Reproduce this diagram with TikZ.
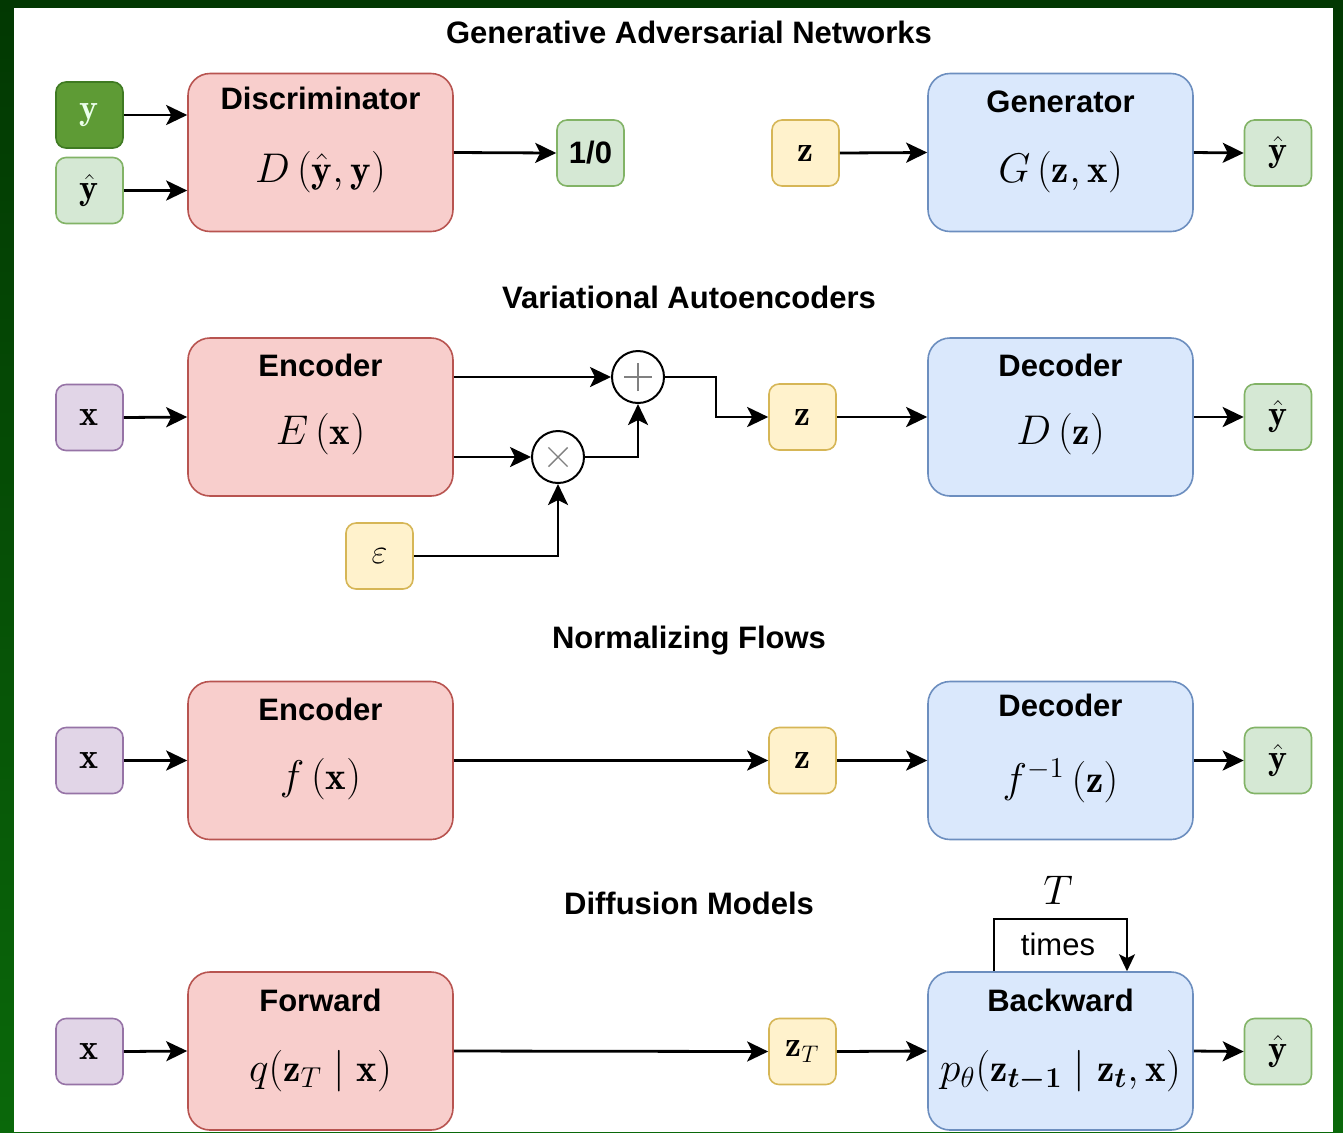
\documentclass[tikz,border=0pt]{standalone}
\usepackage{amsmath,bm}
\usepackage{fontspec}
\newfontfamily\arial{Liberation Sans}
\usetikzlibrary{arrows.meta}
\definecolor{rfill}{HTML}{F8CECC}\definecolor{rdraw}{HTML}{B85450}
\definecolor{bfill}{HTML}{DAE8FC}\definecolor{bdraw}{HTML}{6C8EBF}
\definecolor{gfill}{HTML}{D5E8D4}\definecolor{gdraw}{HTML}{82B366}
\definecolor{yfill}{HTML}{FFF2CC}\definecolor{ydraw}{HTML}{D6B656}
\definecolor{pfill}{HTML}{E1D5E7}\definecolor{pdraw}{HTML}{9673A6}
\definecolor{dgfill}{HTML}{5E9B35}\definecolor{dgdraw}{HTML}{3F7A22}
\definecolor{bgtop}{RGB}{2,56,2}\definecolor{bgbot}{RGB}{10,104,10}
\begin{document}
\begin{tikzpicture}[x=0.5pt,y=-0.5pt,
  big/.style={rounded corners=11pt, minimum width=132.5pt, minimum height=79pt, line width=0.8pt, inner sep=0pt},
  redbig/.style={big, fill=rfill, draw=rdraw},
  bluebig/.style={big, fill=bfill, draw=bdraw},
  small/.style={rounded corners=5pt, minimum width=33.5pt, minimum height=33pt, line width=0.8pt, inner sep=0pt, font=\fontsize{18}{20}\selectfont},
  gsm/.style={small, fill=gfill, draw=gdraw},
  dgsm/.style={small, fill=dgfill, draw=dgdraw, text=green!8},
  ysm/.style={small, fill=yfill, draw=ydraw},
  psm/.style={small, fill=pfill, draw=pdraw},
  sectitle/.style={font=\arial\bfseries\fontsize{15.5}{18}\selectfont, inner sep=0pt},
  boxtitle/.style={font=\arial\bfseries\fontsize{15.5}{18}\selectfont, inner sep=0pt},
  formula/.style={font=\fontsize{19.5}{22}\selectfont, inner sep=0pt},
  arr/.style={-{Stealth[length=10.5pt,width=10pt,inset=2.5pt]}, line width=1.4pt},
  loop/.style={-{Stealth[length=8.5pt,width=8pt,inset=2pt]}, line width=1pt},
  op/.style={circle, draw, line width=1pt, minimum size=26pt, inner sep=0pt, fill=white}
]
\useasboundingbox (0,0) rectangle (1343,1132);
\fill[top color=bgtop, bottom color=bgbot] (0,0) rectangle (1343,1132);
\fill[white] (14,8) rectangle (1333,1132);

% ---------------- GAN
\node[sectitle] (t1) at (689,32) {Generative Adversarial Networks};
\node[dgsm] (y1) at (89.5,115) {$\mathbf{y}$};
\node[gsm] (yh1) at (89.5,190.5) {$\hat{\mathbf{y}}$};
\node[redbig] (disc) at (320.5,152.5) {};
\node[boxtitle] (disct) at (320.5,98) {Discriminator};
\node[formula] (discf) at (320.5,172) {$D\left(\hat{\mathbf{y}},\mathbf{y}\right)$};
\draw[arr] (y1.east) -- (y1.east -| disc.west);
\draw[arr] (yh1.east) -- (yh1.east -| disc.west);
\node[gsm, font=\arial\bfseries\fontsize{15.5}{18}\selectfont] (out) at (590.5,153) {1/0};
\draw[arr] (disc.east) -- (out.west);
\node[ysm] (z1) at (805.5,153) {$\mathbf{z}$};
\node[bluebig] (gen) at (1060.5,152.5) {};
\node[boxtitle] (gent) at (1060.5,102) {Generator};
\node[formula] (genf) at (1060.5,172) {$G\left(\mathbf{z},\mathbf{x}\right)$};
\draw[arr] (z1.east) -- (gen.west);
\node[gsm] (yo1) at (1278,153) {$\hat{\mathbf{y}}$};
\draw[arr] (gen.east) -- (yo1.west);

% ---------------- VAE
\node[sectitle] (t2) at (689,297) {Variational Autoencoders};
\node[psm] (x2) at (89.5,417.5) {$\mathbf{x}$};
\node[redbig] (enc2) at (320.5,417) {};
\node[boxtitle] (enc2t) at (320.5,365) {Encoder};
\node[formula] (enc2f) at (320.5,434) {$E\left(\mathbf{x}\right)$};
\draw[arr] (x2.east) -- (enc2.west);
\node[op] (plus) at (638,377) {};
\node[op] (times) at (558,457) {};
\draw[gray, line width=0.7pt] ([xshift=-7pt]plus.center) -- ([xshift=7pt]plus.center)
  ([yshift=-7pt]plus.center) -- ([yshift=7pt]plus.center);
\draw[gray, line width=0.7pt] ([xshift=-4.8pt,yshift=-4.8pt]times.center) -- ([xshift=4.8pt,yshift=4.8pt]times.center)
  ([xshift=-4.8pt,yshift=4.8pt]times.center) -- ([xshift=4.8pt,yshift=-4.8pt]times.center);
\draw[arr] (enc2.east |- plus) -- (plus.west);
\draw[arr] (enc2.east |- times) -- (times.west);
\draw[arr] (times.east) -| (plus.south);
\node[ysm] (eps) at (379.5,556) {$\varepsilon$};
\draw[arr] (eps.east) -| (times.south);
\node[ysm] (z2) at (802.5,417) {$\mathbf{z}$};
\coordinate (bend) at (716,377);
\draw[arr] (plus.east) -- (bend) |- (z2.west);
\node[bluebig] (dec2) at (1060.5,417) {};
\node[boxtitle] (dec2t) at (1060.5,365) {Decoder};
\node[formula] (dec2f) at (1060.5,434) {$D\left(\mathbf{z}\right)$};
\draw[arr] (z2.east) -- (dec2.west);
\node[gsm] (yo2) at (1278,417) {$\hat{\mathbf{y}}$};
\draw[arr] (dec2.east) -- (yo2.west);

% ---------------- NF
\node[sectitle] (t3) at (689,641) {Normalizing Flows};
\node[psm] (x3) at (89.5,760.5) {$\mathbf{x}$};
\node[redbig] (enc3) at (320.5,760.5) {};
\node[boxtitle] (enc3t) at (320.5,709) {Encoder};
\node[formula] (enc3f) at (320.5,779) {$f\left(\mathbf{x}\right)$};
\draw[arr] (x3.east) -- (enc3.west);
\node[ysm] (z3) at (802.5,760.5) {$\mathbf{z}$};
\draw[arr] (enc3.east) -- (z3.west);
\node[bluebig] (dec3) at (1060.5,760.5) {};
\node[boxtitle] (dec3t) at (1060.5,705) {Decoder};
\node[formula] (dec3f) at (1060.5,781) {$f^{-1}\left(\mathbf{z}\right)$};
\draw[arr] (z3.east) -- (dec3.west);
\node[gsm] (yo3) at (1278,760.5) {$\hat{\mathbf{y}}$};
\draw[arr] (dec3.east) -- (yo3.west);

% ---------------- Diffusion
\node[sectitle] (t4) at (689,903) {Diffusion Models};
\node[psm] (x4) at (89.5,1051.5) {$\mathbf{x}$};
\node[redbig] (fwd) at (320.5,1051) {};
\node[boxtitle] (fwdt) at (320.5,1000) {Forward};
\node[formula] (fwdf) at (320.5,1071) {$q(\mathbf{z}_T \mid \mathbf{x})$};
\draw[arr] (x4.east) -- (fwd.west);
\node[ysm] (z4) at (802.5,1051.5) {$\mathbf{z}_T$};
\draw[arr] (fwd.east) -- (z4.west);
\node[bluebig] (bwd) at (1060.5,1051) {};
\node[boxtitle] (bwdt) at (1060.5,1000) {Backward};
\node[formula] (bwdf) at (1060.5,1071) {$p_\theta(\mathbf{z}_{\boldsymbol{t-1}} \mid \mathbf{z}_{\boldsymbol{t}}, \mathbf{x})$};
\draw[arr] (z4.east) -- (bwd.west);
\node[gsm] (yo4) at (1278,1051.5) {$\hat{\mathbf{y}}$};
\draw[arr] (bwd.east) -- (yo4.west);
\coordinate (l1) at (994,919);
\coordinate (l2) at (1127,919);
\draw[loop] (bwd.north -| l1) -- (l1) -- (l2) -- (bwd.north -| l2);
\node[font=\arial\fontsize{15.5}{18}\selectfont, inner sep=0pt] (timesl) at (1058,944) {times};
\node[formula] (Tl) at (1058,890) {$T$};
\end{tikzpicture}
\end{document}
